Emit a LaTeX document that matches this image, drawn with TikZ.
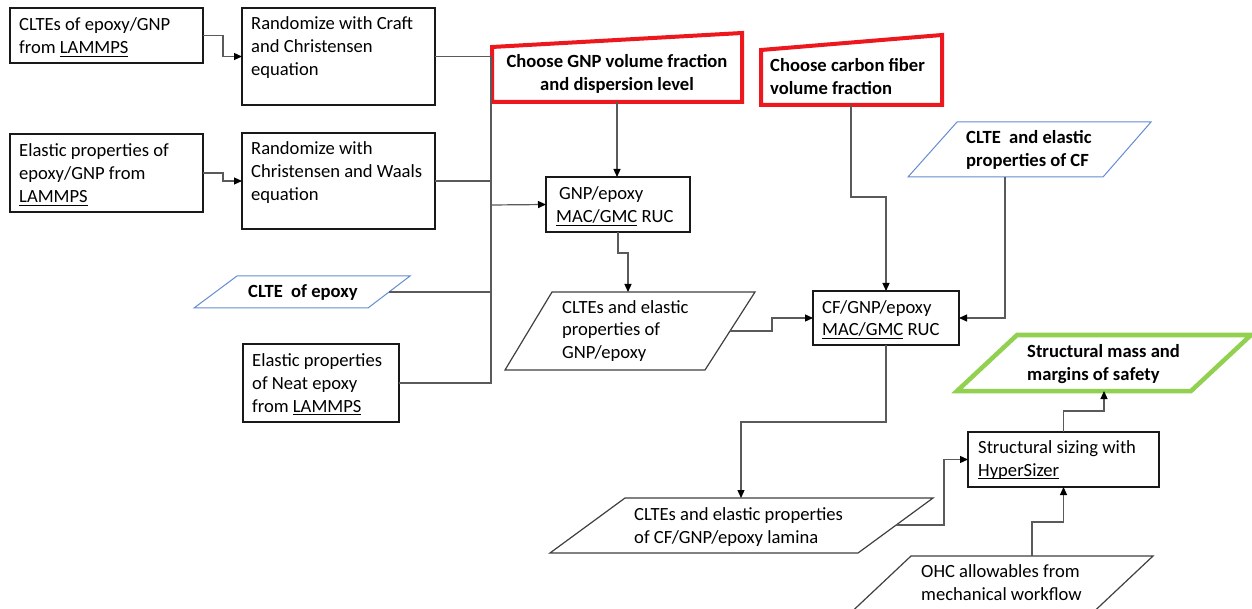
\documentclass[tikz,border=0pt]{standalone}
\usepackage{fontspec}
\setmainfont{Carlito}
\usetikzlibrary{arrows.meta}
\definecolor{cred}{RGB}{236,24,30}
\definecolor{cgreen}{RGB}{146,208,80}
\definecolor{cblue}{RGB}{100,140,210}
\definecolor{cline}{RGB}{90,90,90}
\newcommand{\fs}{\fontsize{18.6}{23}\selectfont}
\newcommand{\mylines}[1]{\begin{tabular}[t]{@{}l@{}}#1\end{tabular}}
\newcommand{\myclines}[1]{\begin{tabular}[t]{@{}c@{}}#1\end{tabular}}
\newcommand{\myul}[1]{\leavevmode\setbox0\hbox{#1}\rlap{\rule[-2.6pt]{\wd0}{0.9pt}}\box0\relax}
\begin{document}
\begin{tikzpicture}[x=1pt,y=-1pt,
  box/.style={draw=black!90,line width=1.2pt,inner sep=0pt,outer sep=0pt,anchor=north west},
  txt/.style={inner sep=0pt,anchor=base west,font=\fs},
  btxt/.style={inner sep=0pt,anchor=base west,font=\fs\bfseries},
  conn/.style={draw=cline,line width=1.2pt},
  arr/.style={conn,-{Triangle[length=8pt,width=7pt,color=black]}},
  redb/.style={draw=cred,line width=4pt,line join=miter},
  greenb/.style={draw=cgreen,line width=4.5pt,line join=miter},
  blueb/.style={draw=cblue,line width=1pt},
  para/.style={draw=black!75,line width=1.2pt}]
\useasboundingbox[fill=white] (0,0) rectangle (1252,609);

% boxes
\node[box,minimum width=193pt,minimum height=55pt] (A1) at (10,8) {};
\node[box,minimum width=193pt,minimum height=97pt] (B1) at (242,8) {};
\node[box,minimum width=193pt,minimum height=78pt] (A2) at (10,134) {};
\node[box,minimum width=193pt,minimum height=96pt] (B2) at (242,133) {};
\node[box,minimum width=156pt,minimum height=78pt] (NE) at (243,344) {};
\node[box,minimum width=144pt,minimum height=55pt] (GB) at (546,177) {};
\node[box,minimum width=146pt,minimum height=54pt] (CB) at (813,291) {};
\node[box,minimum width=191pt,minimum height=55pt] (SZ) at (968,432) {};

% input shapes
\draw[redb] (492,47) -- (742,33) -- (742,102) -- (492,102) -- cycle;
\coordinate (RGout) at (617,102);
\draw[redb] (761,50) -- (942,35) -- (942,105) -- (761,105) -- cycle;
\coordinate (RCout) at (851,105);
\draw[blueb] (237,276) -- (410,276) -- (368,308) -- (194,308) -- cycle;
\coordinate (CEout) at (389,292);
\draw[blueb] (957,122) -- (1151,122) -- (1103,177) -- (908,177) -- cycle;
\coordinate (CFout) at (1005,177);
\draw[para] (552,292) -- (755,292) -- (705,370) -- (505,370) -- cycle;
\coordinate (GPin) at (628,292);
\coordinate (GPout) at (730,331);
\draw[para] (625,498) -- (933,498) -- (858,553) -- (550,553) -- cycle;
\coordinate (LMin) at (741,498);
\coordinate (LMout) at (896,525);
\draw[para] (911,556) -- (1153,556) -- (1085,620) -- (843,620) -- cycle;
\coordinate (OHout) at (1032,556);
\draw[greenb] (1017,335) -- (1251,335) -- (1191,391) -- (957,391) -- cycle;
\coordinate (GRin) at (1104,391);

% texts
\node[txt] (tA1) at (19,31) {\mylines{CLTEs of epoxy/GNP\\from \myul{LAMMPS}}};
\node[txt] (tB1) at (251,30) {\mylines{Randomize with Craft\\and Christensen\\equation}};
\node[txt] (tA2) at (19,157) {\mylines{Elastic properties of\\epoxy/GNP from\\\myul{LAMMPS}}};
\node[txt] (tB2) at (251,155) {\mylines{Randomize with\\Christensen and Waals\\equation}};
\node[btxt] (tCE) at (248,298) {CLTE\ \ of epoxy};
\node[txt] (tNE) at (252,366) {\mylines{Elastic properties\\of Neat epoxy\\from \myul{LAMMPS}}};
\node[btxt,anchor=base] (tRG) at (617,68) {\myclines{Choose GNP volume fraction\\and dispersion level}};
\node[txt] (tGB) at (556,200) {\mylines{\hspace*{3pt}GNP/epoxy\\\myul{MAC/GMC} RUC}};
\node[txt] (tGP) at (562,313) {\mylines{CLTEs and elastic\\properties of\\GNP/epoxy}};
\node[btxt] (tRC) at (770,72) {\mylines{Choose carbon fiber\\volume fraction}};
\node[btxt] (tCF) at (966,144) {\mylines{CLTE\ \ and elastic\\properties of CF}};
\node[txt] (tCB) at (822,313) {\mylines{CF/GNP/epoxy\\\myul{MAC/GMC} RUC}};
\node[btxt] (tGR) at (1027,357) {\mylines{Structural mass and\\margins of safety}};
\node[txt] (tSZ) at (978,453) {\mylines{Structural sizing with\\\myul{HyperSizer}}};
\node[txt] (tLM) at (634,520) {\mylines{CLTEs and elastic properties\\of CF/GNP/epoxy lamina}};
\node[txt] (tOH) at (921,577) {\mylines{OHC allowables from\\mechanical workflow}};

% connectors
\coordinate (J) at (491,205);
\draw[arr] (A1.east) -- ++(20,0) |- (B1.west);
\draw[arr] (A2.east) -- ++(20,0) |- (B2.west);
\draw[conn] (B1.east) -| (J);
\draw[conn] (B2.east) -| (J);
\draw[conn] (CEout) -| (J);
\draw[conn] (NE.east) -| (J);
\draw[arr] (J) -- (GB.west);
\draw[arr] (RGout) -- (RGout |- GB.north);
\draw[arr] (GB.south) -- ++(0,21) -| (GPin);
\draw[arr] (GPout) -- ++(42,0) |- (CB.west);
\draw[arr] (RCout) -- ++(0,92) -| (CB.north);
\draw[arr] (CFout) |- (CB.east);
\draw[arr] (CB.south) -- ++(0,77) -| (LMin);
\draw[arr] (LMout) -- ++(48,0) |- (SZ.west);
\draw[arr] (OHout) -- ++(0,-34) -| (SZ.south);
\draw[arr] (SZ.north) -- ++(0,-21) -| (GRin);
\end{tikzpicture}
\end{document}
